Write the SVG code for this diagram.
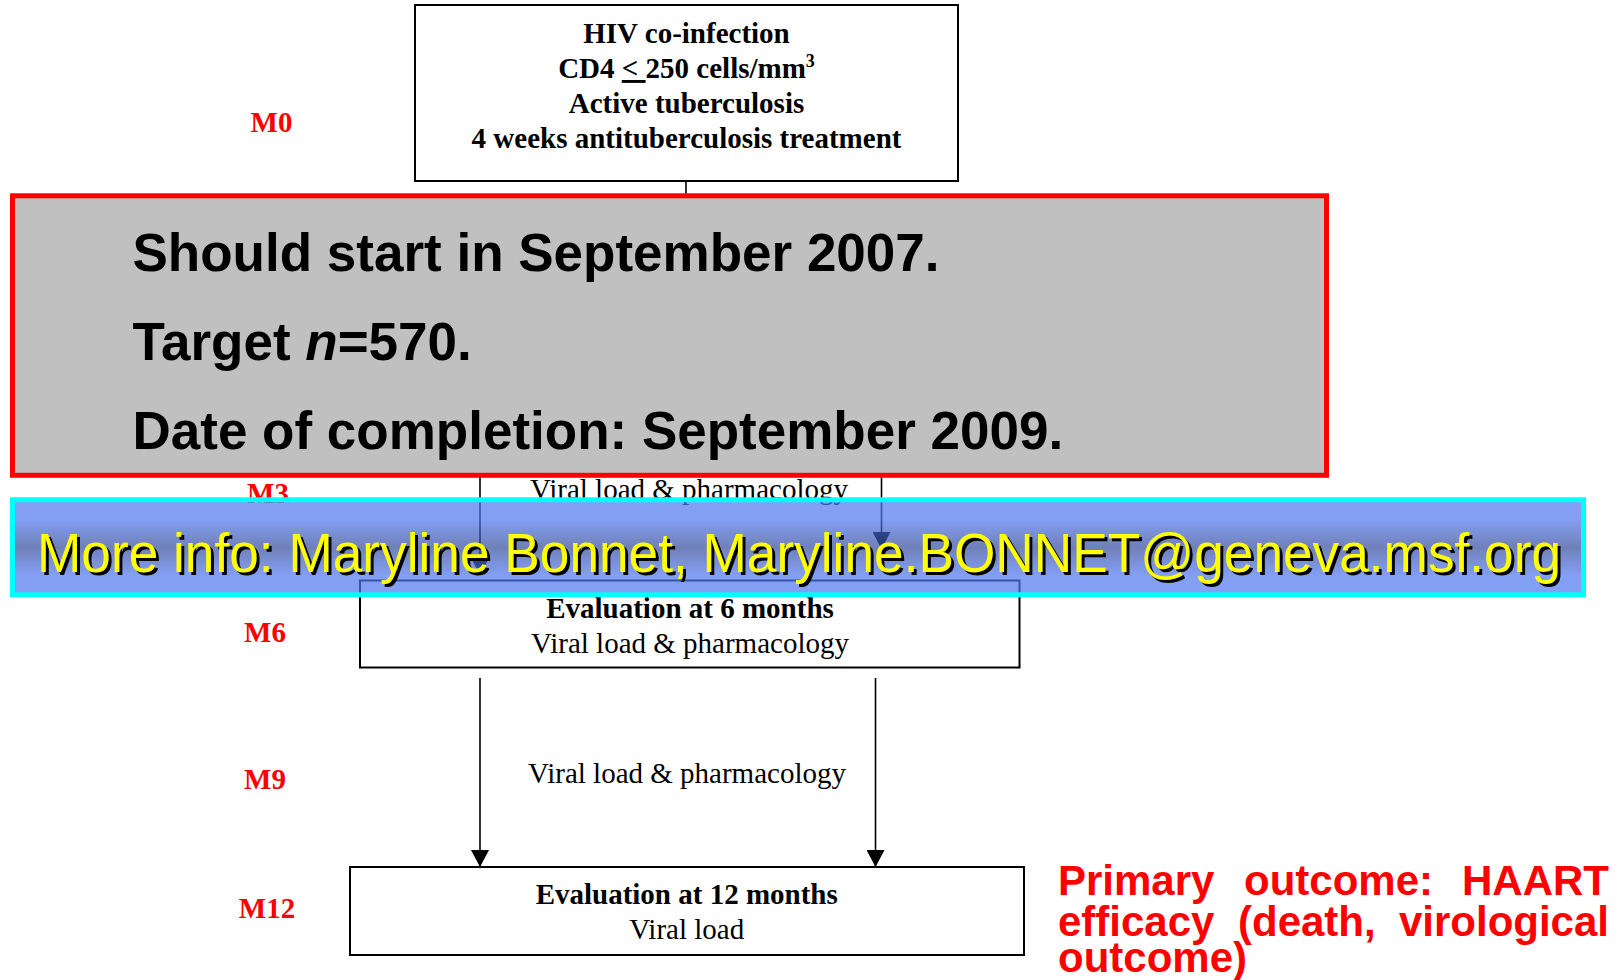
<svg xmlns="http://www.w3.org/2000/svg" width="1623" height="980" viewBox="0 0 1623 980">
<style>
.box{fill:#fff;stroke:#000;stroke-width:2}
.tb{font-family:"Liberation Serif","Times New Roman",serif;font-weight:bold;font-size:29px;fill:#000;text-anchor:middle}
.tr{font-family:"Liberation Serif","Times New Roman",serif;font-size:29px;fill:#000;text-anchor:middle}
.m{font-family:"Liberation Serif","Times New Roman",serif;font-weight:bold;font-size:29px;fill:#ff0000;text-anchor:middle}
.conn{stroke:#000;stroke-width:1.6;fill:none}
.big{font-family:"Liberation Sans",Arial,sans-serif;font-weight:bold;font-size:53px;fill:#000}
.info{font-family:"Liberation Sans",Arial,sans-serif;font-size:55px}
.out{font-family:"Liberation Sans",Arial,sans-serif;font-weight:bold;font-size:42px;fill:#ff0000}
</style>
<defs>
<marker id="arr" markerUnits="userSpaceOnUse" markerWidth="18" markerHeight="18" viewBox="0 0 18 18" refX="9" refY="17" orient="auto-start-reverse">
<path d="M0,0 L18,0 L9,17 Z" fill="#000" transform="rotate(-90 9 9)"/>
</marker>
<marker id="ah" markerUnits="userSpaceOnUse" markerWidth="18" markerHeight="18" viewBox="0 0 18 18" refX="17" refY="9" orient="auto">
<path d="M0,0 L17,9 L0,18 Z" fill="#000"/>
</marker>
<linearGradient id="bg" x1="0" y1="0" x2="0" y2="1">
<stop offset="0" stop-color="#4f77f1"/>
<stop offset="0.2" stop-color="#4f77f1"/>
<stop offset="0.5" stop-color="#334a9a"/>
<stop offset="0.8" stop-color="#4f77f1"/>
<stop offset="1" stop-color="#4f77f1"/>
</linearGradient>
</defs>
<rect width="1623" height="980" fill="#fff"/>

<g id="labels">
<text class="m" x="271.5" y="131.7">M0</text>
<text class="m" x="268" y="503">M3</text>
<text class="m" x="265" y="641.7">M6</text>
<text class="m" x="265" y="789">M9</text>
<text class="m" x="267" y="917.7">M12</text>
</g>

<g id="connectors">
<line class="conn" x1="686" y1="181" x2="686" y2="196"/>
<line class="conn" x1="480" y1="470" x2="480" y2="575" marker-end="url(#ah)"/>
<line class="conn" x1="881.5" y1="470" x2="881.5" y2="549" marker-end="url(#ah)"/>
<line class="conn" x1="480" y1="678" x2="480" y2="867" marker-end="url(#ah)"/>
<line class="conn" x1="875.5" y1="678" x2="875.5" y2="867" marker-end="url(#ah)"/>
</g>

<g id="node-m0">
<rect class="box" x="415" y="5" width="543" height="176"/>
<text class="tb" x="686.5" y="43">HIV co-infection</text>
<text class="tb" x="686.5" y="78">CD4 <tspan text-decoration="underline">&lt; </tspan>250 cells/mm<tspan font-size="18" dy="-11">3</tspan></text>
<text class="tb" x="686.5" y="113">Active tuberculosis</text>
<text class="tb" x="686.5" y="148">4 weeks antituberculosis treatment</text>
</g>

<g id="label-m3">
<text class="tr" x="689" y="499">Viral load &amp; pharmacology</text>
</g>

<g id="node-m6">
<rect class="box" x="360" y="580.5" width="659.5" height="87"/>
<text class="tb" x="690" y="618">Evaluation at 6 months</text>
<text class="tr" x="690" y="652.7">Viral load &amp; pharmacology</text>
</g>

<g id="label-m9">
<text class="tr" x="687" y="783.3">Viral load &amp; pharmacology</text>
</g>

<g id="node-m12">
<rect class="box" x="350" y="867" width="674" height="88"/>
<text class="tb" x="686.7" y="904.3">Evaluation at 12 months</text>
<text class="tr" x="686.7" y="939.3">Viral load</text>
</g>

<g id="outcome">
<text class="out" y="895"><tspan x="1058">Primary</tspan><tspan x="1244">outcome:</tspan><tspan x="1609" text-anchor="end">HAART</tspan></text>
<text class="out" y="936"><tspan x="1058">efficacy</tspan><tspan x="1238">(death,</tspan><tspan x="1609" text-anchor="end">virological</tspan></text>
<text class="out" y="972"><tspan x="1058">outcome)</tspan></text>
</g>

<g id="status-box">
<rect x="12.5" y="195.8" width="1314" height="279.5" fill="#c0c0c0" stroke="#ff0000" stroke-width="5"/>
<text class="big" x="132.5" y="271">Should start in September 2007.</text>
<text class="big" x="132.5" y="360">Target <tspan font-style="italic">n</tspan>=570.</text>
<text class="big" x="132.5" y="449">Date of completion: September 2009.</text>
</g>

<g id="info-banner">
<rect x="12.5" y="499.8" width="1571" height="95" fill="url(#bg)" fill-opacity="0.7" stroke="#00ffff" stroke-width="5"/>
<text class="info" x="40" y="575" fill="#000" textLength="1524" lengthAdjust="spacingAndGlyphs">More info: Maryline Bonnet, Maryline.BONNET@geneva.msf.org</text>
<text class="info" x="37" y="572" fill="#ffff00" textLength="1524" lengthAdjust="spacingAndGlyphs">More info: Maryline Bonnet, Maryline.BONNET@geneva.msf.org</text>
</g>
</svg>
